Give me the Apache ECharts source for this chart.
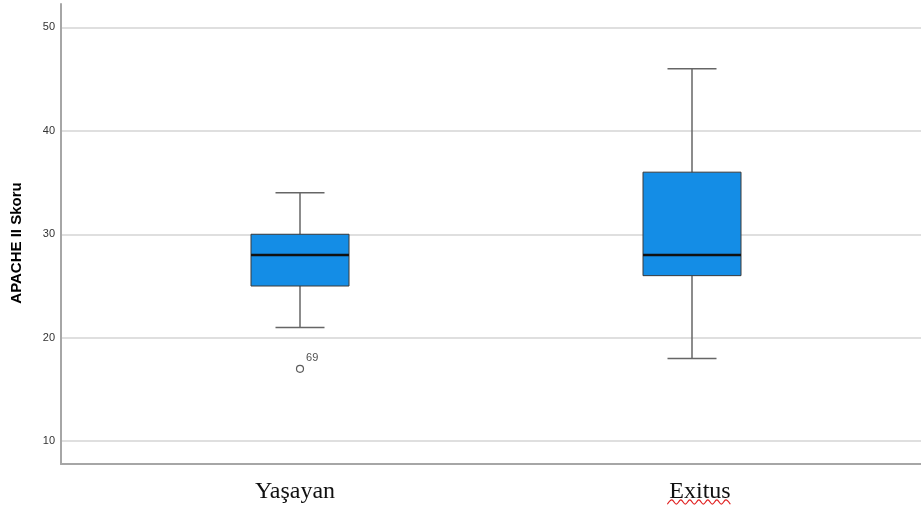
<!DOCTYPE html>
<html>
<head>
<meta charset="utf-8">
<script src="https://cdn.jsdelivr.net/npm/echarts@6/dist/echarts.min.js"></script>
<style>
  html, body { margin: 0; padding: 0; background: #fff; }
  #chart { width: 921px; height: 511px; }
</style>
</head>
<body>
<div id="chart"></div>
<script>
// APACHE II score by outcome group
const categories = ['Yaşayan', 'Exitus'];
const whiskerLow = [21, 18];
const q1 = [25, 26];
const median = [28, 28];
const q3 = [30, 36];
const whiskerHigh = [34, 46];
const outlierGroup = [0];
const outlierValue = [17];
const outlierCase = ['69'];
const yMin = 7.8;
const yMax = 52.25;

const boxData = categories.map((c, i) => [i, whiskerLow[i], q1[i], median[i], q3[i], whiskerHigh[i]]);
const outlierData = outlierGroup.map((g, i) => ({ value: [g, outlierValue[i]], caseId: outlierCase[i] }));

const labelFont = '"Liberation Serif", "Times New Roman", serif';
const labelSize = 24;
// the group labels sit slightly off the box centres
const labelShift = [-5, 8];

const chart = echarts.init(document.getElementById('chart'));

function renderBox(params, api) {
  const x = api.value(0);
  const pLow = api.coord([x, api.value(1)]);
  const pQ1 = api.coord([x, api.value(2)]);
  const pMed = api.coord([x, api.value(3)]);
  const pQ3 = api.coord([x, api.value(4)]);
  const pHigh = api.coord([x, api.value(5)]);
  const band = api.size([1, 0])[0];
  const bw = band * 0.25;
  const cw = bw / 2;
  const cx = pMed[0];
  const whiskerStyle = { stroke: '#666666', lineWidth: 1.5 };
  return {
    type: 'group',
    children: [
      { type: 'line', shape: { x1: cx, y1: pLow[1], x2: cx, y2: pQ1[1] }, style: whiskerStyle },
      { type: 'line', shape: { x1: cx, y1: pQ3[1], x2: cx, y2: pHigh[1] }, style: whiskerStyle },
      { type: 'line', shape: { x1: cx - cw / 2, y1: pLow[1], x2: cx + cw / 2, y2: pLow[1] }, style: whiskerStyle },
      { type: 'line', shape: { x1: cx - cw / 2, y1: pHigh[1], x2: cx + cw / 2, y2: pHigh[1] }, style: whiskerStyle },
      { type: 'rect', shape: { x: cx - bw / 2, y: pQ3[1], width: bw, height: pQ1[1] - pQ3[1] },
        style: { fill: '#148de6', stroke: '#3a3a3a', lineWidth: 1 } },
      { type: 'line', shape: { x1: cx - bw / 2, y1: pMed[1], x2: cx + bw / 2, y2: pMed[1] },
        style: { stroke: '#111111', lineWidth: 2.5 } }
    ]
  };
}

const richStyles = {};
categories.forEach((c, i) => {
  const s = labelShift[i];
  richStyles['c' + i] = {
    fontFamily: labelFont, fontSize: labelSize, color: '#111',
    padding: s >= 0 ? [0, 0, 0, 2 * s] : [0, -2 * s, 0, 0]
  };
});

chart.setOption({
  animation: false,
  backgroundColor: '#ffffff',
  grid: [
    { left: 61, right: 0, top: 4, bottom: 47 },
    { left: 104, right: 33, top: 4, bottom: 47 }
  ],
  xAxis: [
    {
      gridIndex: 0, type: 'value', min: 0, max: 1,
      axisLine: { show: true, lineStyle: { color: '#a6a6a6', width: 2 } },
      axisTick: { show: false }, axisLabel: { show: false }, splitLine: { show: false }
    },
    {
      gridIndex: 1, type: 'category', data: categories,
      axisLine: { show: false }, axisTick: { show: false }, splitLine: { show: false },
      axisLabel: {
        fontFamily: labelFont, fontSize: labelSize, color: '#111', margin: 16,
        formatter: (v, i) => '{c' + i + '|' + v + '}',
        rich: richStyles
      }
    }
  ],
  yAxis: [
    {
      gridIndex: 0, type: 'value', min: yMin, max: yMax,
      name: 'APACHE II Skoru', nameLocation: 'middle', nameGap: 37,
      nameTextStyle: { fontFamily: '"Liberation Sans", Arial, sans-serif', fontSize: 15, fontWeight: 'bold',
        color: '#000', padding: [0, 18, 0, 0] },
      axisLine: { show: true, lineStyle: { color: '#a6a6a6', width: 2 } },
      axisTick: { show: false },
      axisLabel: { showMinLabel: false, showMaxLabel: false, margin: 6,
        fontFamily: '"Liberation Sans", Arial, sans-serif', fontSize: 11, color: '#333' },
      splitLine: { show: true, showMinLine: false, showMaxLine: false, lineStyle: { color: '#d4d4d4', width: 1.5 } }
    },
    {
      gridIndex: 1, type: 'value', min: yMin, max: yMax, show: false,
      splitLine: { show: false }
    }
  ],
  series: [
    {
      type: 'custom', xAxisIndex: 1, yAxisIndex: 1,
      renderItem: renderBox,
      encode: { x: 0, y: [1, 2, 3, 4, 5] },
      data: boxData, z: 3
    },
    {
      type: 'scatter', xAxisIndex: 1, yAxisIndex: 1,
      symbol: 'circle', symbolSize: 7,
      itemStyle: { color: '#ffffff', borderColor: '#333333', borderWidth: 1.2 },
      label: {
        show: true, position: 'right', distance: 2, offset: [0, -11],
        formatter: p => p.data.caseId,
        fontFamily: '"Liberation Sans", Arial, sans-serif', fontSize: 11, color: '#222'
      },
      data: outlierData, z: 4
    }
  ]
});

// Spell-check style wavy underline beneath the "Exitus" label
(function () {
  const ctx = document.createElement('canvas').getContext('2d');
  ctx.font = labelSize + 'px ' + labelFont;
  const w = ctx.measureText(categories[1]).width + 4;
  const cx = chart.convertToPixel({ xAxisIndex: 1 }, categories[1]) + labelShift[1];
  const y0 = 502;
  const pts = [];
  let k = 0;
  for (let x = cx - w / 2; x <= cx + w / 2 + 0.1; x += 4.5, k++) {
    pts.push([x, y0 + (k % 2 ? -2.2 : 2.2)]);
  }
  chart.setOption({
    graphic: [{ type: 'polyline', shape: { points: pts, smooth: 0.4 }, style: { stroke: '#e02020', lineWidth: 1.2, fill: null }, z: 10 }]
  });
})();
</script>
</body>
</html>
